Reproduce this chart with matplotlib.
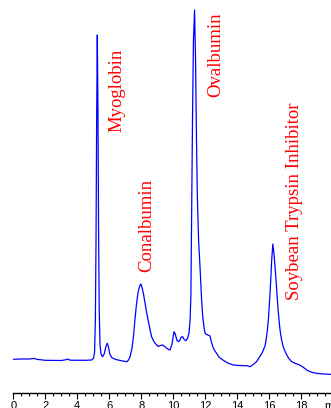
"""
plot.py — Chromatogram of a protein standard mix (SEC), redrawn with matplotlib
"""

import matplotlib
matplotlib.use("Agg")
import matplotlib.pyplot as plt
from matplotlib.ticker import MultipleLocator


# ─────────────────────────────────────────────────────────────
# Data
# ─────────────────────────────────────────────────────────────
time_min = [
    0.0, 0.5, 1.0, 1.3, 1.5, 2.0, 2.5, 3.0, 3.3, 3.4, 3.55, 4.0, 4.5, 4.9,
    5.02, 5.08, 5.13, 5.17, 5.21, 5.25, 5.29, 5.33, 5.37, 5.42, 5.48, 5.58,
    5.68, 5.78, 5.87, 5.95, 6.03, 6.15, 6.4, 6.7, 6.9, 7.1, 7.2, 7.3, 7.42,
    7.52, 7.6, 7.7, 7.8, 7.9, 7.98, 8.07, 8.15, 8.23, 8.35, 8.45, 8.55, 8.65,
    8.8, 8.96, 9.06, 9.2, 9.33, 9.5, 9.65, 9.8, 9.92, 10.04, 10.12, 10.22,
    10.31, 10.42, 10.5, 10.58, 10.68, 10.79, 10.9, 10.98, 11.05, 11.1, 11.15,
    11.2, 11.26, 11.33, 11.39, 11.45, 11.5, 11.58, 11.67, 11.77, 11.84, 11.92,
    11.98, 12.08, 12.17, 12.29, 12.4, 12.5, 12.6, 12.71, 12.85, 13.1, 13.4,
    13.75, 14.1, 14.6, 14.8, 15.0, 15.2, 15.4, 15.55, 15.65, 15.73, 15.8,
    15.88, 15.95, 16.02, 16.09, 16.15, 16.22, 16.3, 16.42, 16.55, 16.67,
    16.77, 16.87, 17.0, 17.2, 17.4, 17.65, 17.9, 18.1, 18.4, 18.7, 18.96,
    19.4, 19.8, 20.0,
]
signal = [
    0.7, 1.0, 1.0, 1.6, 0.6, -0.3, -0.4, -0.5, 0.3, 1.0, -0.2, -0.3, -0.3, 0.0,
    2, 8, 40, 120, 240, 325, 250, 130, 50, 15, 6, 3.3,
    6, 13, 16.7, 13, 6, 2.5, 0.5, -0.5, -1.2, -1.7, 0, 3.3, 12,
    25, 40, 56, 68, 74, 76, 71, 65, 57, 46, 38, 30, 23,
    18, 15, 13.5, 14.5, 15, 13, 11, 10, 16, 28.3, 26, 20,
    18.3, 20, 23, 23.3, 20.5, 19.3, 22, 27, 40, 65, 150,
    240, 320, 350, 300, 220, 165, 120, 93, 60, 43, 33,
    27, 25.5, 25, 24, 17, 12, 9, 6.7, 3, 0, -3,
    -5, -5.5, -5.7, -6.7, -4.5, -1.7, 3.3, 7, 11, 14, 20,
    30, 42, 60, 80, 100, 116, 105, 80, 50, 30,
    20, 13.3, 8, 2, -1.7, -3.5, -5, -7, -10.7, -12.5, -13.3,
    -14, -14.3, -14.4,
]

# peak names and where the rotated labels sit (time, signal of label bottom)
peak_names = ["Myoglobin", "Conalbumin", "Ovalbumin", "Soybean Trypsin Inhibitor"]
label_time = [6.48, 8.36, 12.67, 17.58]
label_base = [228, 88, 263, 60]

tick_values = [0, 2, 4, 6, 8, 10, 12, 14, 16, 18, 20]
tick_labels = ["0", "2", "4", "6", "8", "10", "12", "14", "16", "18", "min"]


# ─────────────────────────────────────────────────────────────
# Figure
# ─────────────────────────────────────────────────────────────
W, H = 331, 408
fig = plt.figure(figsize=(W / 100, H / 100), dpi=100)

# x=0 at px 13.3, 16 px per minute; spine at px 393
x0, px_per_min = 13.3, 16.0
ax = fig.add_axes([x0 / W, (H - 393) / H, 20 * px_per_min / W, 393 / H])
ax.set_xlim(0, 20)
ax.set_ylim(-33, 360)

ax.plot(time_min, signal, color="#0000FF", linewidth=0.9)

for name, tx, ty in zip(peak_names, label_time, label_base):
    ax.text(tx, ty, name, rotation=90, ha="center", va="bottom",
            color="#FF0000", fontsize=13.5, family="Liberation Serif")

# only the bottom axis is shown
for side in ["left", "right", "top"]:
    ax.spines[side].set_visible(False)
ax.spines["bottom"].set_linewidth(1.0)
ax.set_yticks([])

ax.set_xticks(tick_values)
ax.set_xticklabels(tick_labels, family="Liberation Sans", fontsize=8)
ax.xaxis.set_minor_locator(MultipleLocator(0.5))
ax.tick_params(axis="x", which="major", length=4.5, width=0.8, pad=1.0)
ax.tick_params(axis="x", which="minor", length=2.5, width=0.8)

fig.savefig("out.png", dpi=100)
plt.close(fig)
